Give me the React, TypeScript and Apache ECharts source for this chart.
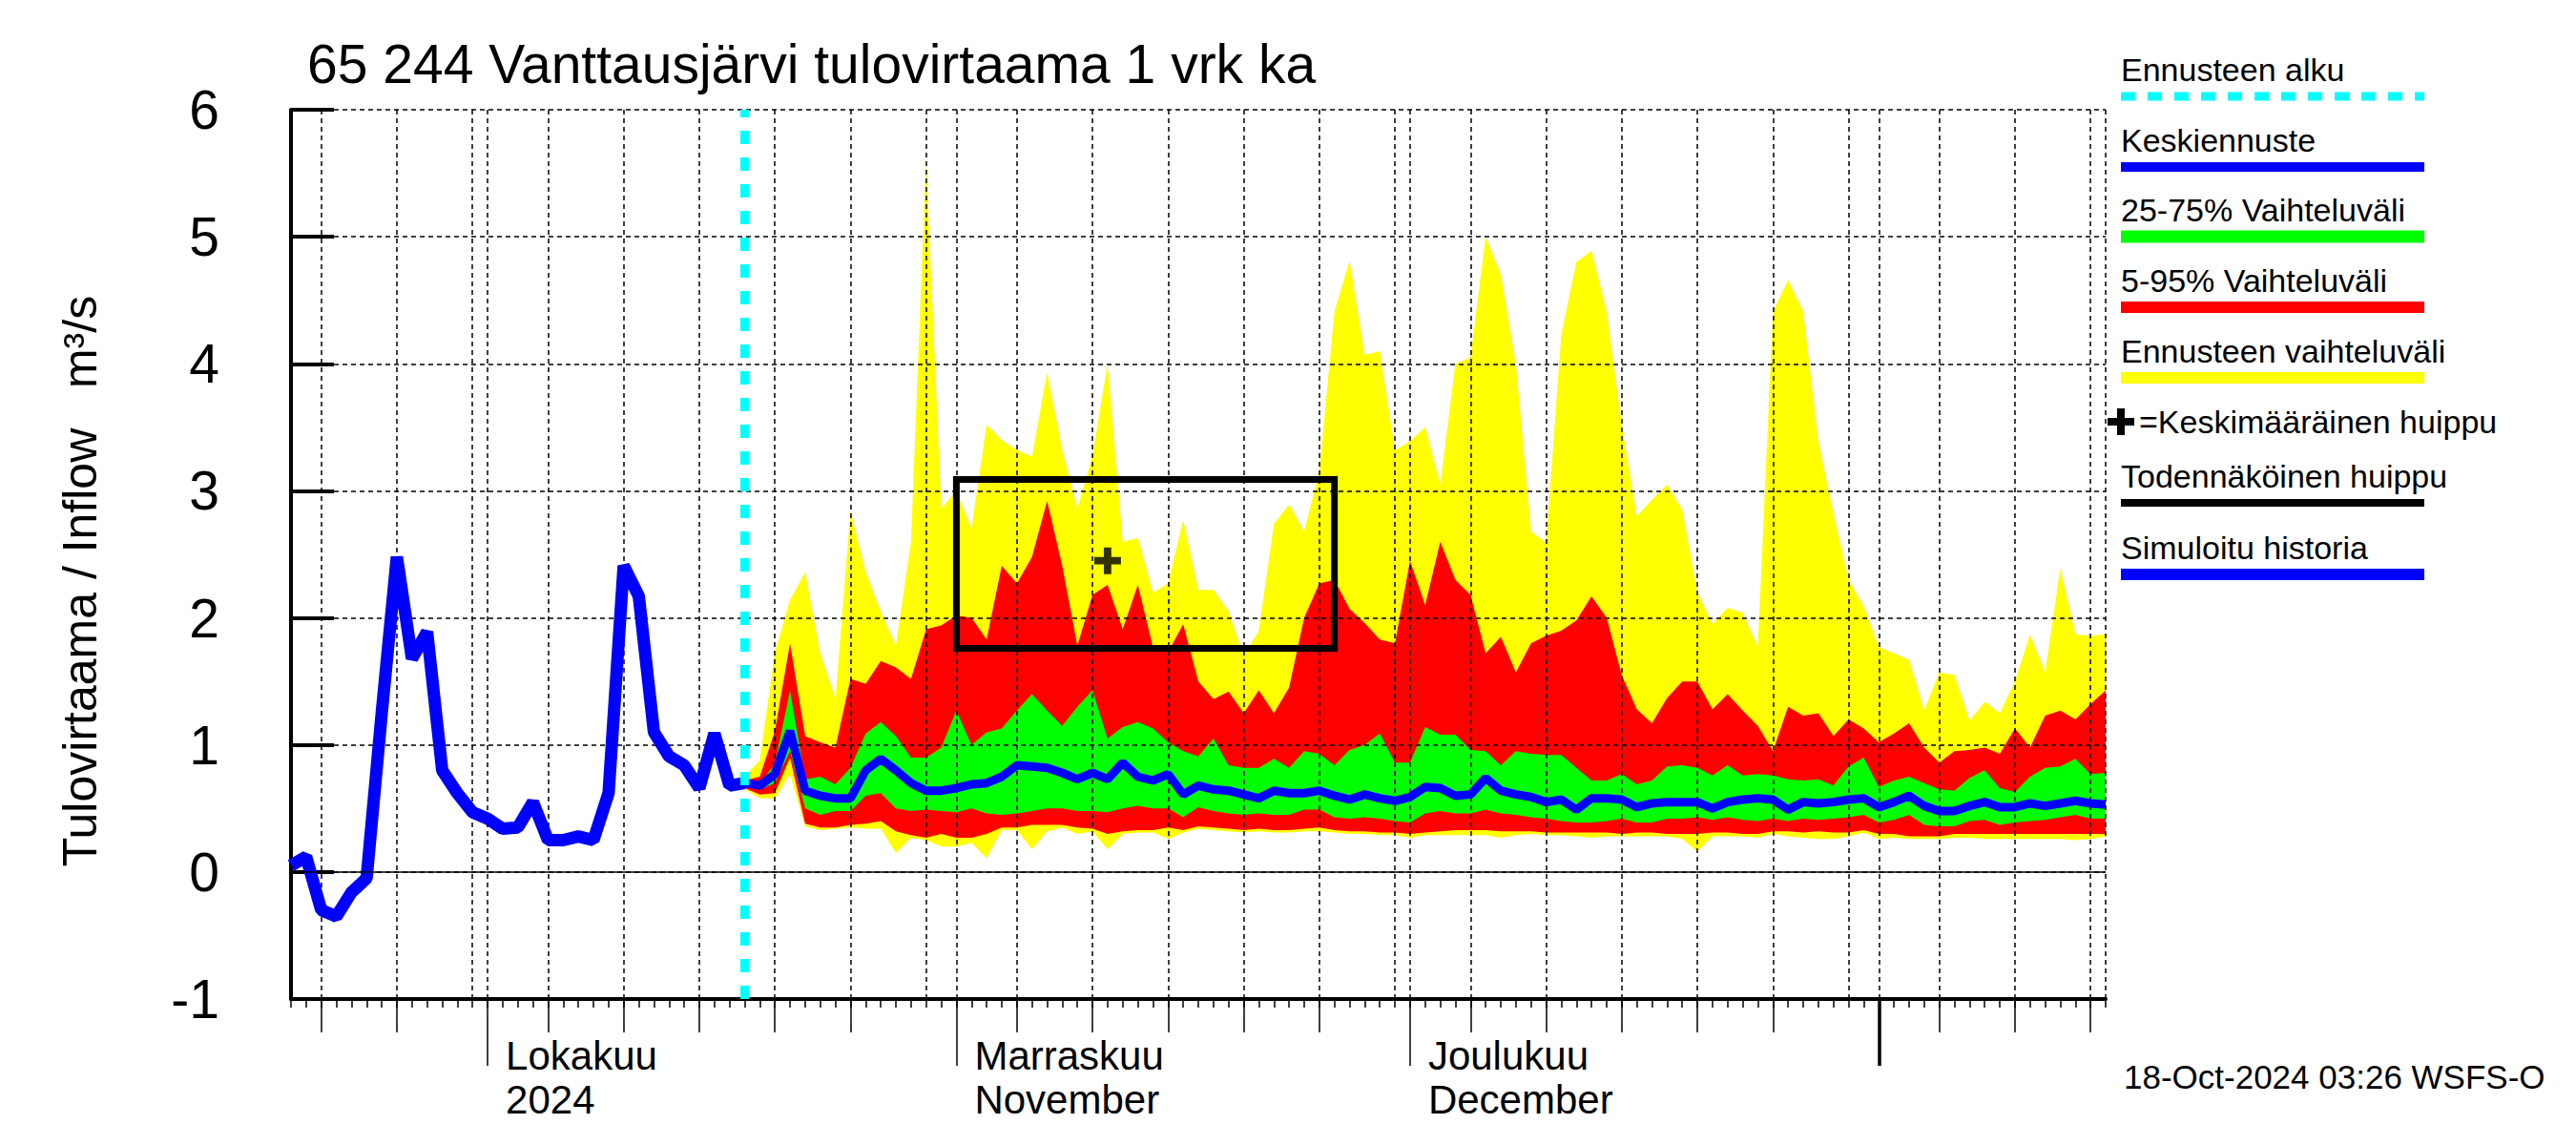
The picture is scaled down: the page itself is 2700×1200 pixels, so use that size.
import React, { useEffect, useRef } from "react";
import * as echarts from "echarts";

const FONT = "'Liberation Sans', Arial, Helvetica, sans-serif";
const YELLOW = "#FFFF00";
const RED = "#FF0000";
const GREEN = "#00FF00";
const BLUE = "#0000FF";
const CYAN = "#00FFFF";

// ---- categories (daily, 2024-09-18 .. 2025-01-16)
const START_DATE = [2024, 8, 18];
const N_DAYS = 121;
const categories: string[] = Array.from({ length: N_DAYS }, (_, i) =>
  new Date(Date.UTC(START_DATE[0], START_DATE[1], START_DATE[2] + i)).toISOString().slice(0, 10)
);
const FORECAST_START_DATE = "2024-10-18";

const monthLabels: [string, string][] = [
  ["2024-10-01", "Lokakuu\n2024"],
  ["2024-11-01", "Marraskuu\nNovember"],
  ["2024-12-01", "Joulukuu\nDecember"],
];
const yearStart = "2025-01-01";
const gridDays = [1, 5, 10, 15, 20, 25, 30];
const mediumTickDays = [5, 10, 15, 20, 25];

// ---- simulated history 2024-09-18 .. 2024-10-18
const history = [
  0.05, 0.12, -0.3, -0.35, -0.16, -0.05, 1.25, 2.48, 1.68, 1.89, 0.8, 0.62, 0.47, 0.42, 0.34, 0.35,
  0.55, 0.25, 0.25, 0.28, 0.25, 0.62, 2.41, 2.17, 1.1, 0.91, 0.84, 0.66, 1.09, 0.68, 0.7,
];

// ---- forecast 2024-10-18 .. 2025-01-16
const fMax = [
  0.75, 0.88, 1.73, 2.14, 2.36, 1.72, 1.36, 2.84, 2.36, 2.05, 1.78, 2.6, 5.61, 2.86, 3.0, 2.7, 3.52, 3.4,
  3.32, 3.27, 3.93, 3.32, 2.86, 3.27, 4.0, 2.6, 2.63, 2.2, 2.27, 2.77, 2.22, 2.22,
  2.05, 1.7, 1.9, 2.74, 2.89, 2.68, 3.15, 4.41, 4.81, 4.07, 4.1, 3.32, 3.39, 3.5, 3.05, 4.0, 4.05, 5.0,
  4.7, 4.0, 2.68, 2.59, 4.23, 4.8, 4.89, 4.41, 3.52, 2.8, 2.93, 3.05, 2.85,
  2.2, 1.95, 2.08, 2.04, 1.77, 4.41, 4.66, 4.41, 3.39, 2.82, 2.3, 2.09, 1.77, 1.72, 1.67, 1.27, 1.57,
  1.55, 1.19, 1.34, 1.25, 1.5, 1.87, 1.57, 2.39, 1.87, 1.86, 1.87,
];
const fP95 = [
  0.72, 0.75, 1.11, 1.8, 1.07, 1.02, 0.98, 1.52, 1.48, 1.66, 1.61, 1.52, 1.91, 1.94, 2.02, 2.0, 1.83, 2.41,
  2.27, 2.48, 2.92, 2.41, 1.78, 2.18, 2.26, 1.91, 2.26, 1.77, 1.73, 1.95, 1.5, 1.36,
  1.42, 1.25, 1.43, 1.25, 1.45, 2.0, 2.27, 2.3, 2.07, 1.96, 1.83, 1.8, 2.45, 2.1, 2.6, 2.3, 2.18, 1.72,
  1.85, 1.57, 1.8, 1.86, 1.9, 1.98, 2.17, 2.0, 1.55, 1.28, 1.17, 1.37, 1.5,
  1.5, 1.28, 1.4, 1.27, 1.15, 0.95, 1.3, 1.23, 1.25, 1.07, 1.2, 1.13, 1.02, 1.09, 1.17, 0.98, 0.86, 0.95,
  0.96, 0.98, 0.93, 1.13, 0.98, 1.23, 1.27, 1.2, 1.32, 1.43,
];
const fP75 = [
  0.7, 0.7, 0.85, 1.43, 0.73, 0.75, 0.69, 0.82, 1.09, 1.18, 1.07, 0.9, 0.9, 0.98, 1.27, 1.0, 1.1, 1.13,
  1.27, 1.4, 1.27, 1.15, 1.3, 1.43, 1.05, 1.14, 1.18, 1.13, 1.02, 0.95, 0.91, 1.05,
  0.84, 0.82, 0.82, 0.89, 0.82, 0.95, 0.93, 0.84, 0.96, 1.0, 1.09, 0.86, 0.86, 1.14, 1.08, 1.08, 0.96,
  0.95, 0.84, 0.95, 0.93, 0.92, 0.92, 0.82, 0.72, 0.72, 0.77, 0.69, 0.72, 0.83, 0.84,
  0.82, 0.76, 0.84, 0.76, 0.77, 0.76, 0.73, 0.72, 0.73, 0.68, 0.83, 0.9, 0.67, 0.72, 0.75, 0.7, 0.65, 0.64,
  0.74, 0.8, 0.66, 0.63, 0.75, 0.82, 0.83, 0.89, 0.77, 0.78,
];
const fMedian = [
  0.7, 0.68, 0.77, 1.11, 0.64, 0.6, 0.58, 0.58, 0.8, 0.89, 0.8, 0.7, 0.64, 0.64, 0.66, 0.69, 0.7, 0.75,
  0.84, 0.83, 0.82, 0.78, 0.73, 0.78, 0.73, 0.86, 0.75, 0.72, 0.77, 0.61, 0.68, 0.65,
  0.64, 0.61, 0.58, 0.64, 0.62, 0.62, 0.64, 0.6, 0.57, 0.61, 0.58, 0.56, 0.59, 0.67, 0.66, 0.6, 0.61, 0.74,
  0.64, 0.61, 0.59, 0.55, 0.57, 0.49, 0.58, 0.58, 0.57, 0.51, 0.54, 0.55, 0.55,
  0.55, 0.5, 0.55, 0.57, 0.58, 0.57, 0.49, 0.55, 0.54, 0.55, 0.57, 0.58, 0.51, 0.55, 0.6, 0.52, 0.48, 0.48,
  0.52, 0.55, 0.51, 0.51, 0.54, 0.52, 0.54, 0.56, 0.54, 0.53,
];
const fP25 = [
  0.68, 0.65, 0.7, 0.95, 0.5, 0.45, 0.48, 0.48, 0.6, 0.62, 0.5, 0.48, 0.49, 0.48, 0.47, 0.5, 0.46, 0.45,
  0.46, 0.48, 0.5, 0.5, 0.48, 0.48, 0.47, 0.5, 0.52, 0.5, 0.5, 0.43, 0.51, 0.48,
  0.46, 0.45, 0.46, 0.45, 0.45, 0.49, 0.49, 0.43, 0.42, 0.43, 0.42, 0.4, 0.39, 0.46, 0.48, 0.46, 0.46, 0.49,
  0.46, 0.45, 0.43, 0.42, 0.4, 0.39, 0.39, 0.4, 0.42, 0.39, 0.39, 0.42, 0.42,
  0.43, 0.41, 0.43, 0.41, 0.4, 0.42, 0.4, 0.42, 0.41, 0.42, 0.43, 0.45, 0.39, 0.41, 0.45, 0.37, 0.36, 0.36,
  0.4, 0.41, 0.37, 0.39, 0.4, 0.41, 0.43, 0.45, 0.42, 0.42,
];
const fP5 = [
  0.66, 0.61, 0.62, 0.9, 0.38, 0.35, 0.35, 0.37, 0.38, 0.4, 0.32, 0.29, 0.27, 0.3, 0.27, 0.27, 0.3, 0.35,
  0.35, 0.37, 0.37, 0.37, 0.35, 0.34, 0.3, 0.32, 0.33, 0.33, 0.35, 0.33, 0.36, 0.35,
  0.34, 0.33, 0.34, 0.33, 0.33, 0.34, 0.35, 0.33, 0.32, 0.32, 0.31, 0.31, 0.3, 0.31, 0.32, 0.33, 0.33, 0.33,
  0.32, 0.32, 0.32, 0.31, 0.31, 0.31, 0.31, 0.31, 0.3, 0.31, 0.31, 0.3, 0.3,
  0.3, 0.31, 0.31, 0.3, 0.3, 0.32, 0.32, 0.31, 0.32, 0.31, 0.31, 0.33, 0.3, 0.3, 0.28, 0.28, 0.28, 0.3,
  0.3, 0.3, 0.3, 0.3, 0.3, 0.3, 0.3, 0.3, 0.3, 0.3,
];
const fMin = [
  0.65, 0.58, 0.58, 0.77, 0.36, 0.33, 0.34, 0.35, 0.34, 0.34, 0.15, 0.27, 0.25, 0.2, 0.2, 0.23, 0.11, 0.33,
  0.33, 0.18, 0.32, 0.35, 0.3, 0.32, 0.18, 0.3, 0.31, 0.31, 0.26, 0.31, 0.34, 0.33,
  0.32, 0.31, 0.32, 0.31, 0.31, 0.32, 0.32, 0.31, 0.3, 0.3, 0.29, 0.29, 0.27, 0.29, 0.29, 0.29, 0.29, 0.29,
  0.27, 0.29, 0.3, 0.29, 0.29, 0.28, 0.27, 0.28, 0.28, 0.28, 0.28, 0.28, 0.26,
  0.16, 0.28, 0.28, 0.28, 0.27, 0.3, 0.28, 0.27, 0.26, 0.26, 0.28, 0.31, 0.26, 0.27, 0.26, 0.26, 0.26, 0.27,
  0.27, 0.26, 0.26, 0.26, 0.26, 0.26, 0.26, 0.25, 0.26, 0.28,
];

// ---- peak estimates
const peakBoxDates = ["2024-11-01", "2024-11-26"];
const peakBoxValues = [1.76, 3.09];
const meanPeak: [string, number] = ["2024-11-11", 2.45];

const TITLE = "65 244 Vanttausjärvi tulovirtaama 1 vrk ka";
const Y_NAME = "Tulovirtaama / Inflow   m³/s";
const STAMP = "18-Oct-2024 03:26 WSFS-O";

const legendEntries = [
  { text: "Ennusteen alku", color: CYAN, width: 9, dash: [15, 13] as number[] | null },
  { text: "Keskiennuste", color: BLUE, width: 10, dash: null },
  { text: "25-75% Vaihteluväli", color: GREEN, width: 13, dash: null },
  { text: "5-95% Vaihteluväli", color: RED, width: 12, dash: null },
  { text: "Ennusteen vaihteluväli", color: YELLOW, width: 12, dash: null },
  { text: "=Keskimääräinen huippu", color: null as string | null, width: 0, dash: null, plus: true },
  { text: "Todennäköinen huippu", color: "#000000", width: 8, dash: null },
  { text: "Simuloitu historia", color: BLUE, width: 12, dash: null },
];
const legendBaselines = [85, 159, 232, 306, 380, 454, 511, 586];

const dayOf = (i: number) => parseInt(categories[i].slice(8, 10), 10);
const FS = categories.indexOf(FORECAST_START_DATE);

function padForecast(arr: number[]) {
  return categories.map((_, i) => (i >= FS && i - FS < arr.length ? arr[i - FS] : null));
}
function diff(a: number[], b: number[]) {
  return a.map((v, i) => Math.max(0, +(v - b[i]).toFixed(4)));
}

function buildOption() {
  const monthMap: Record<string, string> = Object.fromEntries(monthLabels);

  const bandSeries: any[] = [];
  const bands: [number[], number[], string][] = [
    [fMin, fMax, YELLOW],
    [fP5, fP95, RED],
    [fP25, fP75, GREEN],
  ];
  bands.forEach(([lo, hi, color], j) => {
    const stack = "band" + j;
    bandSeries.push({
      type: "line",
      stack,
      data: padForecast(lo),
      symbol: "none",
      silent: true,
      lineStyle: { width: 0, opacity: 0 },
      areaStyle: { color: "#ffffff", opacity: 0 },
      z: 2,
    });
    bandSeries.push({
      type: "line",
      stack,
      data: padForecast(diff(hi, lo)),
      symbol: "none",
      silent: true,
      lineStyle: { width: 0, opacity: 0 },
      areaStyle: { color, opacity: 1 },
      z: 2,
    });
  });

  const histData = categories.map((_, i) => (i < history.length ? history[i] : null));

  const boxData = [
    [peakBoxDates[0], peakBoxValues[0]],
    [peakBoxDates[0], peakBoxValues[1]],
    [peakBoxDates[1], peakBoxValues[1]],
    [peakBoxDates[1], peakBoxValues[0]],
    [peakBoxDates[0], peakBoxValues[0]],
  ];

  const tickAxisBase = (show: (i: number) => boolean, length: number, width: number) => ({
    type: "category",
    data: categories,
    boundaryGap: false,
    position: "bottom",
    offset: 0,
    z: 3,
    axisLine: { show: false, onZero: false },
    axisTick: { show: true, interval: (i: number) => show(i), length, lineStyle: { color: "#000", width } },
    axisLabel: { show: false },
    splitLine: { show: false },
  });

  const textStyle = (text: string, fontSize: number, align = "left") => ({
    text,
    fontSize,
    fontFamily: FONT,
    fill: "#000",
    align,
    verticalAlign: "middle",
    textAlign: align,
    textVerticalAlign: "middle",
  });

  const legendGraphics: any[] = [];
  const LX0 = 2223;
  const LX1 = 2541;
  legendEntries.forEach((e: any, k) => {
    const base = legendBaselines[k];
    if (e.plus) {
      const cx = 2223;
      const cy = base - 12;
      legendGraphics.push({ type: "rect", shape: { x: cx - 14, y: cy - 4, width: 28, height: 8 }, style: { fill: "#000" } });
      legendGraphics.push({ type: "rect", shape: { x: cx - 4, y: cy - 14, width: 8, height: 28 }, style: { fill: "#000" } });
      legendGraphics.push({ type: "text", x: 2242, y: base - 12, style: textStyle(e.text, 34) });
      return;
    }
    legendGraphics.push({ type: "text", x: LX0, y: base - 12, style: textStyle(e.text, 34) });
    legendGraphics.push({
      type: "line",
      shape: { x1: LX0, y1: base + 16, x2: LX1, y2: base + 16 },
      style: { stroke: e.color, lineWidth: e.width, lineDash: e.dash || undefined },
    });
  });

  return {
    animation: false,
    textStyle: { fontFamily: FONT },
    grid: { left: 305, right: 493, top: 115, bottom: 153, containLabel: false },
    xAxis: [
      {
        type: "category",
        data: categories,
        boundaryGap: false,
        position: "bottom",
        offset: 0,
        z: 3,
        axisLine: { show: true, onZero: false, lineStyle: { color: "#000", width: 4 } },
        axisTick: { show: true, interval: 0, length: 9, lineStyle: { color: "#000", width: 1.5 } },
        axisLabel: {
          show: true,
          interval: (i: number) => !!monthMap[categories[i]],
          formatter: (v: string) => monthMap[v] || "",
          fontSize: 42,
          lineHeight: 46,
          color: "#000",
          fontFamily: FONT,
          align: "left",
          padding: [0, 0, 0, 19],
          margin: 36,
        },
        splitLine: {
          show: true,
          interval: (i: number) => gridDays.includes(dayOf(i)) || i === categories.length - 1,
          lineStyle: { color: "#000", width: 1.5, type: [5, 4] },
        },
      },
      tickAxisBase((i) => mediumTickDays.includes(dayOf(i)), 35, 1.5),
      tickAxisBase((i) => dayOf(i) === 1 && categories[i] !== yearStart, 70, 1.5),
      tickAxisBase((i) => categories[i] === yearStart, 70, 3.5),
    ],
    yAxis: {
      type: "value",
      min: -1,
      max: 6,
      interval: 1,
      z: 3,
      axisLine: { show: true, onZero: false, lineStyle: { color: "#000", width: 4 } },
      axisTick: { show: true, inside: true, length: 45, lineStyle: { color: "#000", width: 4 } },
      axisLabel: { fontSize: 57, color: "#000", margin: 75, fontFamily: FONT },
      splitLine: { show: true, lineStyle: { color: "#000", width: 1.5, type: [5, 4] } },
    },
    series: [
      ...bandSeries,
      {
        type: "line",
        data: categories.map(() => null),
        symbol: "none",
        silent: true,
        z: 3,
        markLine: {
          silent: true,
          symbol: "none",
          label: { show: false },
          lineStyle: { color: "#000", width: 1.5, type: "solid" },
          data: [{ yAxis: 0 }],
        },
      },
      {
        type: "line",
        data: padForecast(fMedian),
        symbol: "none",
        silent: true,
        z: 4,
        lineStyle: { color: BLUE, width: 9 },
      },
      {
        type: "line",
        data: histData,
        symbol: "none",
        silent: true,
        z: 4,
        lineStyle: { color: BLUE, width: 13 },
      },
      {
        type: "line",
        data: boxData,
        symbol: "none",
        silent: true,
        z: 5,
        lineStyle: { color: "#000", width: 7, join: "miter", cap: "square" },
      },
      {
        type: "scatter",
        data: [meanPeak],
        symbol: "path://M0,3.6 L3.6,3.6 L3.6,0 L6.4,0 L6.4,3.6 L10,3.6 L10,6.4 L6.4,6.4 L6.4,10 L3.6,10 L3.6,6.4 L0,6.4 Z",
        symbolSize: 28,
        itemStyle: { color: "#000" },
        silent: true,
        z: 6,
      },
      {
        type: "line",
        data: categories.map(() => null),
        symbol: "none",
        silent: true,
        z: 6,
        markLine: {
          silent: true,
          symbol: "none",
          label: { show: false },
          lineStyle: { color: CYAN, width: 9, type: [14, 14] },
          data: [{ xAxis: FS }],
        },
      },
    ],
    graphic: [
      { type: "text", x: 322, y: 67, style: textStyle(TITLE, 57) },
      { type: "text", x: 84, y: 609, rotation: Math.PI / 2, style: textStyle(Y_NAME, 50, "center") },
      { type: "text", x: 2226, y: 1128, style: textStyle(STAMP, 35) },
      ...legendGraphics,
    ],
  };
}

export default function App() {
  const ref = useRef<HTMLDivElement>(null);
  useEffect(() => {
    document.body.style.margin = "0";
    const chart = echarts.init(ref.current as HTMLDivElement, null, { renderer: "svg" });
    chart.setOption(buildOption() as any);
    return () => chart.dispose();
  }, []);
  return <div ref={ref} style={{ width: 2700, height: 1200 }} />;
}
